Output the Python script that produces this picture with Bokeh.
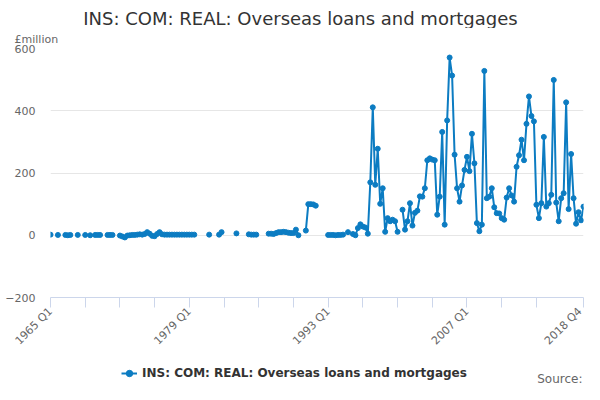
import math

from bokeh.embed import file_html
from bokeh.layouts import column
from bokeh.models import ColumnDataSource, FixedTicker, Label, Legend, LegendItem, Range1d, Title
from bokeh.plotting import figure
from bokeh.resources import INLINE

title_text = "INS: COM: REAL: Overseas loans and mortgages"
series_name = "INS: COM: REAL: Overseas loans and mortgages"
unit_text = "£million"
source_text = "Source:"

# quarterly values, £million (None = no data), one list per 14 years
values_1965_1978 = [
    2, None, None, 1, None, None, 1, 0, 1, None, None, 1, None, None,
    1, None, 0, None, 1, 1, 1, None, None, 1, 1, 1, None, None,
    -1, -4, -7, -1, 0, 1, 1, 2, 3, 2, 4, 10, 5, -2,
    -3, 4, 10, 3, 2, 2, 2, 2, 2, 2, 2, 2, 2, 2,
]
values_1979_1992 = [
    2, 2, 2, None, None, None, None, None, 2, None, None, None, 2, 10,
    None, None, None, None, None, 6, None, None, None, None, 3, 2, 2, 2,
    None, None, None, None, 5, 5, 4, 7, 10, 10, 11, 10, 8, 7,
    7, 18, 0, None, None, 15, 100, 100, 99, 95, None, None, None, None,
]
values_1993_2006 = [
    1, 1, 1, 0, 1, 1, 2, None, 10, None, 4, 0, 23, 35,
    28, 25, 5, 170, 411, 162, 278, 101, 151, 11, 55, 45, 50, 45,
    11, None, 82, 18, 45, 103, 31, 72, 79, 125, 124, 151, 241, 247,
    243, 241, 66, 124, 332, 34, 369, 571, 513, 259, 151, 108, 160, 210,
]
values_2007_2018 = [
    252, 206, 326, 231, 39, 13, 34, 528, 119, 124, 151, 90, 71, 70,
    55, 50, 121, 151, 128, 108, 220, 257, 307, 241, 358, 446, 383, 366,
    98, 55, 103, 316, 92, 103, 130, 499, 105, 45, 119, 135, 427, 84,
    261, 119, 37, 74, 48, 92,
]

x_ticks = [0, 14, 28, 42, 56, 70, 84, 98, 112, 126, 140, 154, 168, 182, 196, 215]
x_tick_labels = {0: "1965 Q1", 56: "1979 Q1", 112: "1993 Q1", 168: "2007 Q1", 215: "2018 Q4"}
y_ticks = [-200, 0, 200, 400, 600]

vals = values_1965_1978 + values_1979_1992 + values_1993_2006 + values_2007_2018
quarters = list(range(len(vals)))
vals = [float("nan") if v is None else v for v in vals]
src = ColumnDataSource(data=dict(q=quarters, v=vals))

blue = "#0c7cc2"
font = "DejaVu Sans"
W = 584

# strip with the chart title (its frame lines up with the main frame, x from 50)
head = figure(width=W, height=28, output_backend="svg", toolbar_location=None,
              x_range=Range1d(0, W), y_range=Range1d(0, 28),
              x_axis_location=None, y_axis_location=None, min_border=0)
head.outline_line_color = None
head.grid.visible = False
head.add_layout(Label(x=250, y=10, x_units="screen", y_units="screen", text=title_text,
                      text_align="center", text_baseline="middle", text_font=font,
                      text_font_size="18px", text_color="#333333"))

# main chart
p = figure(width=W, height=327, output_backend="svg", toolbar_location=None,
           x_range=Range1d(0, 215), y_range=Range1d(-200, 600),
           min_border_left=50, min_border_right=1, min_border_top=18, min_border_bottom=58)
p.outline_line_color = None
p.xgrid.grid_line_color = None
p.ygrid.grid_line_color = "#e6e6e6"

line_r = p.line("q", "v", source=src, line_color=blue, line_width=2)
dots_r = p.scatter("q", "v", source=src, size=5, color=blue)

xa = p.xaxis[0]
xa.ticker = FixedTicker(ticks=x_ticks)
xa.major_label_overrides = {t: x_tick_labels.get(t, "") for t in x_ticks}
xa.major_label_orientation = math.pi / 4
xa.axis_line_color = "#ccd6eb"
xa.major_tick_line_color = "#ccd6eb"
xa.major_tick_out = 10
xa.major_tick_in = 0
xa.minor_tick_line_color = None
xa.major_label_text_font = font
xa.major_label_text_font_size = "11px"
xa.major_label_text_color = "#666666"
xa.major_label_standoff = 2

ya = p.yaxis[0]
ya.ticker = FixedTicker(ticks=y_ticks)
ya.axis_line_color = None
ya.major_tick_line_color = None
ya.major_tick_out = 0
ya.major_tick_in = 0
ya.minor_tick_line_color = None
ya.major_label_text_font = font
ya.major_label_text_font_size = "11px"
ya.major_label_text_color = "#666666"
ya.major_label_standoff = 15

p.add_layout(Title(text=unit_text, align="left", offset=-36, standoff=5,
                   text_font=font, text_font_size="11px", text_font_style="normal",
                   text_color="#666666"), "above")

# strip with legend and source note
nan_src = ColumnDataSource(data=dict(x=[float("nan")], y=[float("nan")]))
foot = figure(width=W, height=29, output_backend="svg", toolbar_location=None,
              x_range=Range1d(0, W), y_range=Range1d(0, 29),
              x_axis_location=None, y_axis_location=None, min_border=0)
foot.outline_line_color = None
foot.grid.visible = False
key_line = foot.line("x", "y", source=nan_src, line_color=blue, line_width=2)
key_dot = foot.scatter("x", "y", source=nan_src, size=5, color=blue)
legend = Legend(items=[LegendItem(label=series_name, renderers=[key_line, key_dot])],
                location=(71, 3), orientation="horizontal", border_line_color=None,
                background_fill_alpha=0, padding=0, margin=0, spacing=0,
                glyph_width=16, glyph_height=16, label_height=16,
                label_standoff=5, label_text_font=font, label_text_font_style="bold",
                label_text_font_size="12px", label_text_color="#333333")
foot.add_layout(legend)
foot.add_layout(Label(x=532, y=6, x_units="screen", y_units="screen", text=source_text,
                      text_align="right", text_baseline="middle", text_font=font,
                      text_font_size="12px", text_color="#666666"))

page = column(head, p, foot, spacing=0)
open("out.html", "w").write(file_html(page, INLINE))
